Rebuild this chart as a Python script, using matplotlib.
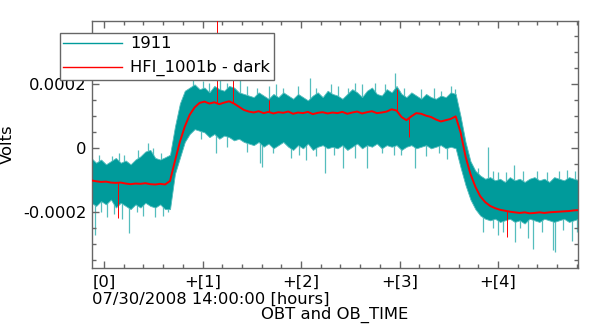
import numpy as np
import matplotlib
matplotlib.use('Agg')
import matplotlib.pyplot as plt
from matplotlib.lines import Line2D

# time axis, hours after 07/30/2008 14:00:00
hours = np.round(np.arange(-0.13, 4.83, 0.05), 2)

# values below are in units of 1e-4 V
red_line = [
    -1.00, -1.03, -1.05, -1.04, -1.07, -1.08, -1.07, -1.10, -1.12, -1.10,
    -1.11, -1.09, -1.12, -1.13, -1.11, -1.13, -1.02, -0.40, 0.20, 0.68,
    1.05, 1.28, 1.42, 1.46, 1.40, 1.44, 1.38, 1.43, 1.47, 1.40,
    1.30, 1.20, 1.15, 1.12, 1.16, 1.10, 1.14, 1.09, 1.13, 1.11,
    1.15, 1.08, 1.12, 1.10, 1.14, 1.07, 1.11, 1.13, 1.09, 1.12,
    1.10, 1.14, 1.08, 1.12, 1.15, 1.09, 1.13, 1.16, 1.10, 1.12,
    1.15, 1.22, 1.18, 0.98, 0.88, 1.00, 1.10, 1.08, 1.02, 0.98,
    0.90, 0.84, 0.88, 0.92, 1.00, 0.50, -0.25, -0.80, -1.20, -1.50,
    -1.68, -1.80, -1.87, -1.92, -1.95, -1.98, -2.00, -2.02, -2.00, -2.03,
    -2.02, -2.00, -2.02, -2.00, -1.99, -1.98, -1.97, -1.96, -1.94, -1.93,
]

teal_upper = [
    -0.30, -0.45, -0.35, -0.50, -0.40, -0.30, -0.45, -0.38, -0.50, -0.35,
    -0.25, -0.10, -0.05, -0.30, -0.35, -0.28,
    -0.20, 0.68, 1.40, 1.80, 1.90, 2.00, 1.85,
    1.90, 1.75, 1.95, 1.85, 1.80, 1.95, 1.90, 1.75, 1.70, 1.65,
    1.60, 1.75, 1.65, 1.55, 1.70, 1.60, 1.75, 1.65, 1.55, 1.70,
    1.60, 1.50, 1.65, 1.75, 1.60, 1.80, 1.70,
    1.65, 1.55, 1.70, 1.85, 1.75, 1.60, 1.80, 1.90, 1.70, 1.65,
    1.85, 1.75, 1.95, 1.70, 1.60, 1.75, 1.65, 1.55, 1.70, 1.60,
    1.55, 1.65, 1.60, 1.75,
    1.70, 1.00, 0.20, -0.40, -0.70, -0.85, -0.95, -0.90, -1.00, -0.95,
    -1.05, -0.90, -1.00, -0.95, -1.05, -0.95, -0.90, -1.00, -0.95, -1.05,
    -0.90, -0.95, -1.00, -0.90, -0.95, -1.00,
]

teal_lower = [
    -1.70, -1.80, -1.65, -1.75, -1.60, -1.85, -1.70, -1.80, -1.90, -1.75,
    -1.85, -1.70, -1.80, -1.85, -1.75, -1.90,
    -1.90, -0.80, -0.30, 0.20, 0.45, 0.60, 0.55,
    0.50, 0.35, 0.45, 0.30, 0.40, 0.35, 0.25, 0.30, 0.20, 0.15,
    0.10, 0.20, 0.05, 0.15, 0.00, 0.10, 0.20, 0.05, -0.05, 0.10,
    0.00, 0.15, -0.05, 0.05, 0.10, 0.00, 0.05,
    0.00, 0.10, -0.05, 0.05, 0.15, 0.00, 0.10, 0.05, 0.15, 0.00,
    0.10, 0.05, 0.10, -0.05, 0.05, 0.10, 0.00, 0.05, 0.10, 0.00,
    0.05, 0.10, 0.00, 0.05,
    0.00, -0.60, -1.15, -1.60, -1.90, -2.10, -2.20, -2.25, -2.20, -2.30,
    -2.25, -2.20, -2.30, -2.25, -2.35, -2.20, -2.25, -2.30, -2.20, -2.25,
    -2.30, -2.25, -2.20, -2.30, -2.25, -2.20,
]

# isolated excursions of the raw signal (hours, 1e-4 V)
teal_spike_h = [-0.09, 0.03, 0.15, 0.25, 0.45, 0.65, 1.00, 1.14, 1.18, 1.38,
                1.58, 1.60, 1.75, 1.90, 2.05, 2.09, 2.24, 2.43, 2.55, 2.67,
                2.75, 2.94, 2.95, 3.16, 3.48, 3.56, 3.85, 3.90, 4.00, 4.00,
                4.16, 4.17, 4.30, 4.36, 4.40, 4.56, 4.58, 4.70, 4.75,
                -0.05, 0.08, 0.20, 0.35, 0.50, 0.58,
                -0.03, 0.10, 0.18, 0.33, 0.40, 0.52, 0.60,
                0.90, 1.07, 1.25, 1.45, 1.55, 1.68, 1.82, 1.97, 2.15, 2.30,
                2.38, 2.48, 2.62, 2.85, 3.05, 3.22, 3.35, 3.42, 3.52,
                0.98, 1.25, 1.45, 1.72, 1.98, 2.15, 2.33, 2.55, 2.82, 3.02,
                3.27, 3.40,
                3.80, 3.95, 4.08, 4.25, 4.50, 4.62, 4.78,
                3.95, 4.05, 4.22, 4.45, 4.66, 4.80]
teal_spike_v = [-2.70, -2.15, -0.15, -2.65, 0.16, -2.00, 2.10, -0.15, 2.20, 2.13,
                -0.45, -0.57, 2.00, -0.30, -0.35, 2.20, -0.78, -0.63, 2.05, -0.63,
                2.03, -0.20, 2.34, -0.63, -0.33, 1.87, -2.60, 0.05, -0.75, -2.70,
                -0.52, -2.92, -2.80, -3.15, -0.70, -3.18, -3.23, -0.68, -2.90,
                -0.20, -0.25, -0.20, -0.05, 0.00, -0.15,
                -2.00, -2.05, -2.20, -2.00, -2.10, -2.15, -2.10,
                2.20, 2.05, 2.05, 1.95, 1.90, 1.95, 1.90, 1.95, 1.90, 2.00,
                1.95, 1.90, 2.00, 2.00, 1.90, 1.85, 1.90, 1.80, 1.95,
                0.30, 0.05, -0.10, -0.15, -0.20, -0.25, -0.20, -0.30, -0.15, -0.20,
                -0.25, -0.15,
                -0.60, -0.70, -0.75, -0.70, -0.75, -0.70, -0.70,
                -2.50, -2.60, -2.50, -2.60, -2.55, -2.60]

red_spike_h = [0.14, 1.15, 1.31, 1.68, 2.97, 3.10, 4.09]
red_spike_v = [-2.19, 4.50, 2.13, 1.51, 1.87, 0.36, -2.78]

teal = '#009b9b'
teal_light = '#55bdbd'
red = '#ff0000'
grey = '#666666'

scale = 1e-4
fig = plt.figure(figsize=(5.98, 3.24), dpi=100)
ax = fig.add_axes([91.5 / 598, 1 - 268 / 324, (578 - 91.5) / 598, (268 - 21) / 324])

up = np.array(teal_upper) * scale
lo = np.array(teal_lower) * scale
rl = np.array(red_line) * scale

ax.fill_between(hours, lo, up, color=teal, lw=0.6, edgecolor=teal_light, zorder=2)
base = np.interp(teal_spike_h, hours, rl)
ax.vlines(teal_spike_h, base, np.array(teal_spike_v) * scale, color=teal_light, lw=0.9, zorder=1)
ax.plot(hours, rl, color=red, lw=1.4, zorder=3)
base = np.interp(red_spike_h, hours, rl)
ax.vlines(red_spike_h, base, np.array(red_spike_v) * scale, color=red, lw=0.7, zorder=3)

ax.set_xlim(-0.127, 4.812)
ax.set_ylim(-3.74e-4, 3.98e-4)

fs = 11.8
ax.set_xticks([0, 1, 2, 3, 4])
ax.set_xticklabels(['[0]', '+[1]', '+[2]', '+[3]', '+[4]'], fontsize=fs)
ax.set_xticks(np.arange(-0.0, 4.81, 0.2), minor=True)
ax.set_yticks([-2e-4, 0, 2e-4])
ax.set_yticklabels(['-0.0002', '0', '0.0002'], fontsize=fs)
ax.set_yticks(np.arange(-3.5e-4, 3.9e-4, 0.5e-4), minor=True)
ax.tick_params(which='both', direction='in', top=True, right=True, color=grey, width=1)
ax.tick_params(which='major', length=5)
ax.tick_params(which='minor', length=3)
ax.tick_params(axis='x', pad=5)
for s in ax.spines.values():
    s.set_color(grey)
    s.set_linewidth(1)

ax.set_ylabel('Volts', fontsize=fs, labelpad=6)
ax.set_xlabel('OBT and OB_TIME', fontsize=fs, labelpad=12)
fig.text(92 / 598, 1 - 299 / 324, '07/30/2008 14:00:00 [hours]', fontsize=fs,
         ha='left', va='center')

handles = [Line2D([], [], color=teal, lw=1), Line2D([], [], color=red, lw=1)]
leg = fig.legend(handles, ['1911', 'HFI_1001b - dark'], loc='upper left',
                 bbox_to_anchor=(60 / 598, 1 - 33 / 324), borderaxespad=0,
                 fontsize=fs, fancybox=False, framealpha=1, edgecolor=grey,
                 borderpad=0.2, handlelength=3.6, handletextpad=0.5,
                 labelspacing=0.55)
leg.get_frame().set_linewidth(1)
leg.set_zorder(10)

fig.savefig('out.png', dpi=100)
